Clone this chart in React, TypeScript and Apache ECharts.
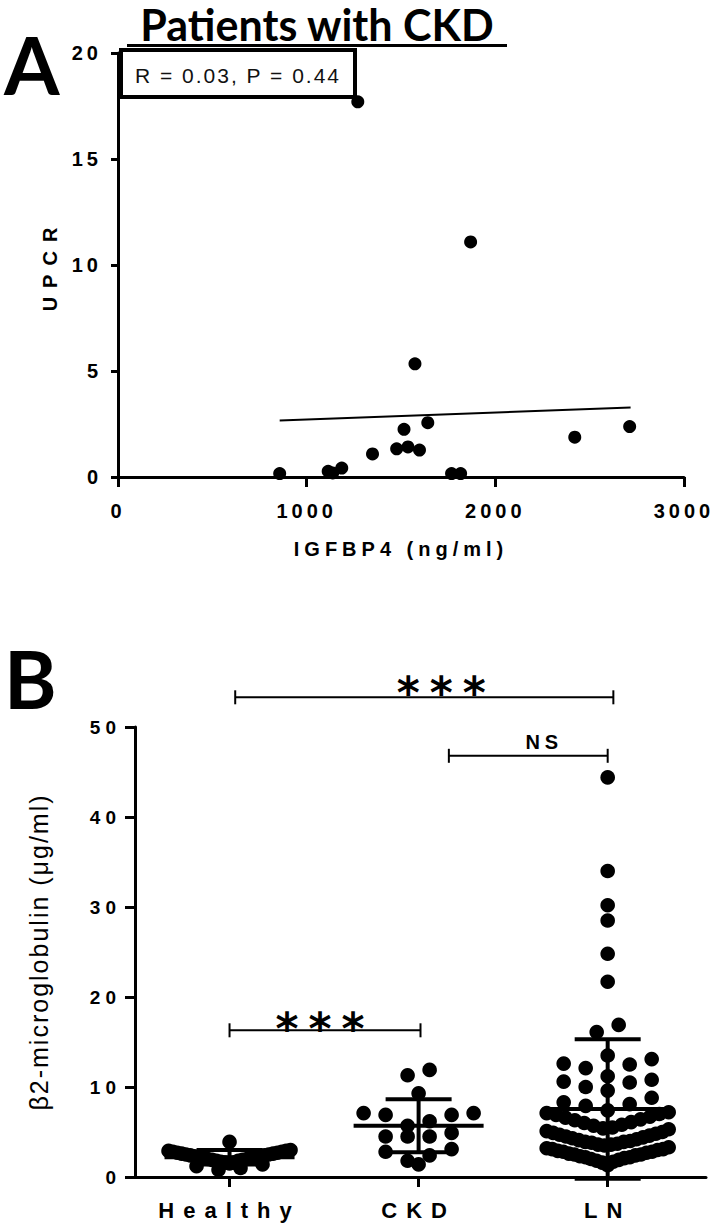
import React, { useEffect, useRef } from "react";
import * as echarts from "echarts";

// ---------- Panel A data ----------
const igfbp4 = [857, 1114, 1138, 1186, 1349, 1477, 1516, 1537, 1574, 1598, 1642, 1768, 1816, 1869, 2421, 2712, 1271];
const upcr = [0.16, 0.27, 0.19, 0.42, 1.09, 1.33, 2.25, 1.42, 5.34, 1.27, 2.56, 0.16, 0.16, 11.09, 1.88, 2.38, 17.7];
const fitX = [857, 2717];
const fitY = [2.66, 3.28];
const statText = "R = 0.03, P = 0.44";

// ---------- Panel B data ----------
const groups = ["Healthy", "CKD", "LN"];
const healthy = [
  3.9, 3.0, 2.9, 2.9, 2.8, 2.8, 2.7, 2.7, 2.6, 2.6, 2.5, 2.5, 2.4, 2.4, 2.3, 2.3, 2.2, 2.2,
  2.1, 2.1, 2.0, 2.0, 1.9, 1.9, 1.8, 1.8, 1.7, 1.6, 1.6, 1.5, 1.4, 1.2, 1.0, 0.8,
];
const ckd = [11.9, 11.3, 9.3, 7.1, 7.1, 6.9, 6.9, 6.2, 5.7, 4.9, 4.5, 4.5, 4.5, 3.1, 2.8, 2.4, 1.8, 1.4];
const ln = [
  1.3,
  1.5, 1.6, 1.7, 1.8, 1.9, 2.0, 2.1, 2.2, 2.2, 2.3, 2.4, 2.5, 2.5, 2.6, 2.7, 2.8, 2.8, 2.9, 3.0, 3.1, 3.1, 3.2, 3.3,
  3.5, 3.6, 3.6, 3.7, 3.8, 3.9, 3.9, 4.0, 4.1, 4.2, 4.3, 4.4, 4.5, 4.6, 4.7, 4.8, 4.9, 5.0, 5.1, 5.3,
  5.4, 5.5, 5.7, 5.8, 6.0, 6.1, 6.3, 6.4, 6.6, 6.7, 6.9, 7.0, 7.1, 7.2,
  7.4, 7.9, 8.1, 8.3, 8.8, 9.6, 10.0, 10.5, 10.6, 10.8, 11.2, 12.1, 12.5, 12.6, 13.1, 13.5,
  16.1, 16.9, 21.7, 24.8, 28.5, 30.2, 34.0, 44.4,
];
const groupMean = [2.2, 5.7, 7.55];
const groupSD = [0.8, 2.95, 7.75];
const bracketFrom = [1.03, 2.16, 1.0];
const bracketTo = [3.03, 3.0, 2.01];
const bracketLevel = [53.3, 46.8, 16.3];
const bracketLabel = ["***", "NS", "***"];

// ---------- styles ----------
const NARROW = "'Liberation Sans Narrow', 'Arial Narrow', 'Liberation Sans'";
const ARIAL = "'Liberation Sans', Arial";
const ff = (base: string, ls: number) => `${base}, x-ls${ls}x`;
const labelShift = [22, 16, 0];
const labelLift = [5, 14, 2];
const labelFont = [
  `bold 44px ${ff("'DejaVu Sans'", 10)}`,
  `bold 20px ${ff(ARIAL, 5)}`,
  `bold 44px ${ff("'DejaVu Sans'", 10)}`,
];

// Prism-like swarm: bin by value, spread each bin horizontally, lowest values in the centre
function swarmOffsets(values: number[]): number[] {
  const BIN = 1.95;
  const BASE = 1.45;
  const bins: Record<string, number[]> = {};
  values.forEach((v, i) => {
    const b = String(Math.floor((v - BASE) / BIN));
    (bins[b] = bins[b] || []).push(i);
  });
  const off = new Array(values.length).fill(0);
  Object.keys(bins).forEach((k) => {
    const idx = bins[k];
    idx.sort((a, b) => values[a] - values[b]);
    const n = idx.length;
    const step = n > 1 ? Math.min(22, 122 / (n - 1)) : 0;
    idx.forEach((id, j) => {
      let pos: number;
      if (n % 2 === 1) {
        pos = j === 0 ? 0 : j % 2 === 1 ? -Math.ceil(j / 2) : Math.ceil(j / 2);
      } else {
        const m = Math.floor(j / 2) + 0.5;
        pos = j % 2 === 0 ? -m : m;
      }
      off[id] = pos * step;
    });
  });
  return off;
}

const spacingCss = Array.from({ length: 14 }, (_, i) => i + 1)
  .map((n) => `text[style*="x-ls${n}x"],text[font-family*="x-ls${n}x"]{letter-spacing:${n}px;}`)
  .join("\n");

export default function App() {
  const ref = useRef<HTMLDivElement>(null);

  useEffect(() => {
    if (!ref.current) return;
    const chart = echarts.init(ref.current, null, { renderer: "svg" });

    const scatterA = igfbp4.map((x, i) => [x, upcr[i]]);
    const fitLine = fitX.map((x, i) => [x, fitY[i]]);

    const dotData: number[][] = [];
    [healthy, ckd, ln].forEach((vals, g) => {
      const off = swarmOffsets(vals);
      vals.forEach((v, i) => dotData.push([g + 1, v, off[i]]));
    });
    const barData = groupMean.map((m, i) => [i + 1, m, groupSD[i]]);
    const bracketData = bracketFrom.map((f, i) => [f, bracketTo[i], bracketLevel[i], i]);

    const axisLineStyle = { color: "#000", width: 3 };

    chart.setOption({
      animation: false,
      backgroundColor: "#fff",
      grid: [
        { left: 118, top: 53, width: 566, height: 424 },
        { left: 135, top: 727, width: 571, height: 450 },
      ],
      xAxis: [
        {
          gridIndex: 0,
          type: "value",
          min: 0,
          max: 3000,
          interval: 1000,
          splitLine: { show: false },
          axisLine: { show: true, lineStyle: axisLineStyle },
          axisTick: { show: true, length: 10, lineStyle: { color: "#000", width: 3 } },
          axisLabel: {
            margin: 24,
            color: "#000",
            fontWeight: "bold",
            fontSize: 20,
            fontFamily: ff(NARROW, 4),
            formatter: (v: number) => String(v),
          },
          name: "IGFBP4 (ng/ml)",
          nameLocation: "middle",
          nameGap: 62,
          nameTextStyle: { color: "#000", fontWeight: "bold", fontSize: 20, fontFamily: ff(NARROW, 5) },
        },
        {
          gridIndex: 1,
          type: "value",
          min: 0.5,
          max: 3.52,
          splitLine: { show: false },
          axisLine: { show: true, lineStyle: axisLineStyle },
          axisTick: { show: true, length: 10, customValues: [1, 2, 3], lineStyle: { color: "#000", width: 3 } },
          axisLabel: {
            customValues: [1, 2, 3],
            formatter: (v: number) => groups[Math.round(v) - 1] || "",
            margin: 22,
            color: "#000",
            fontWeight: "bold",
            fontSize: 22,
            fontFamily: ff(ARIAL, 9),
          },
        },
      ],
      yAxis: [
        {
          gridIndex: 0,
          type: "value",
          min: 0,
          max: 20,
          interval: 5,
          splitLine: { show: false },
          axisLine: { show: true, lineStyle: axisLineStyle },
          axisTick: { show: true, length: 7, lineStyle: { color: "#000", width: 3 } },
          axisLabel: {
            margin: 16,
            color: "#000",
            fontWeight: "bold",
            fontSize: 20,
            fontFamily: ff(NARROW, 4),
          },
          name: "UPCR",
          nameLocation: "middle",
          nameGap: 58,
          nameTextStyle: { color: "#000", fontWeight: "bold", fontSize: 20, fontFamily: ff(NARROW, 9) },
        },
        {
          gridIndex: 1,
          type: "value",
          min: 0,
          max: 50,
          interval: 10,
          splitLine: { show: false },
          axisLine: { show: true, lineStyle: axisLineStyle },
          axisTick: { show: true, length: 10, lineStyle: { color: "#000", width: 3 } },
          axisLabel: {
            margin: 14,
            color: "#000",
            fontWeight: "bold",
            fontSize: 19,
            fontFamily: ff(ARIAL, 5),
          },
          name: "\u03b22-microglobulin (\u03bcg/ml)",
          nameLocation: "middle",
          nameGap: 84,
          nameTextStyle: { color: "#000", fontWeight: "normal", fontSize: 25, fontFamily: ff(ARIAL, 2) },
        },
      ],
      graphic: [
        {
          type: "text",
          x: 4,
          y: 64,
          style: {
            text: "A",
            font: "bold 80px Lato, 'Open Sans', sans-serif",
            fill: "#000",
            textAlign: "left",
            align: "left",
            textVerticalAlign: "middle",
            verticalAlign: "middle",
          },
        },
        {
          type: "text",
          x: 4,
          y: 678,
          style: {
            text: "B",
            font: "bold 80px Lato, 'Open Sans', sans-serif",
            fill: "#000",
            textAlign: "left",
            align: "left",
            textVerticalAlign: "middle",
            verticalAlign: "middle",
          },
        },
        {
          type: "text",
          x: 317,
          y: 24,
          style: {
            text: "Patients with CKD",
            font: "bold 43px Lato, 'Open Sans', sans-serif",
            fill: "#000",
            textAlign: "center",
            align: "center",
            textVerticalAlign: "middle",
            verticalAlign: "middle",
          },
        },
        { type: "rect", shape: { x: 127, y: 44, width: 380, height: 3 }, style: { fill: "#000" } },
        {
          type: "rect",
          z: 10,
          shape: { x: 121, y: 50, width: 234, height: 47 },
          style: { fill: "none", stroke: "#000", lineWidth: 4 },
        },
        {
          type: "text",
          z: 10,
          x: 238,
          y: 75,
          style: {
            text: statText,
            font: `21px ${ff(ARIAL, 2)}`,
            fill: "#111",
            textAlign: "center",
            align: "center",
            textVerticalAlign: "middle",
            verticalAlign: "middle",
          },
        },
      ],
      series: [
        {
          type: "scatter",
          xAxisIndex: 0,
          yAxisIndex: 0,
          data: scatterA,
          symbolSize: 13,
          itemStyle: { color: "#000", opacity: 1 },
          z: 5,
        },
        {
          type: "line",
          xAxisIndex: 0,
          yAxisIndex: 0,
          data: fitLine,
          symbol: "none",
          lineStyle: { color: "#000", width: 2 },
        },
        {
          type: "custom",
          xAxisIndex: 1,
          yAxisIndex: 1,
          clip: false,
          data: dotData,
          renderItem: (_p: any, api: any) => {
            const c = api.coord([api.value(0), api.value(1)]);
            return {
              type: "circle",
              shape: { cx: c[0] + api.value(2), cy: c[1], r: 7.3 },
              style: { fill: "#000" },
            };
          },
        },
        {
          type: "custom",
          xAxisIndex: 1,
          yAxisIndex: 1,
          clip: false,
          z: 4,
          data: barData,
          renderItem: (_p: any, api: any) => {
            const x = api.value(0);
            const m = api.value(1);
            const sd = api.value(2);
            const c = api.coord([x, m]);
            const t = api.coord([x, m + sd]);
            const b = api.coord([x, m - sd]);
            const st = { stroke: "#000", lineWidth: 4 };
            return {
              type: "group",
              children: [
                { type: "line", shape: { x1: c[0], y1: t[1], x2: c[0], y2: b[1] }, style: st },
                { type: "line", shape: { x1: c[0] - 65, y1: c[1], x2: c[0] + 65, y2: c[1] }, style: st },
                { type: "line", shape: { x1: c[0] - 33, y1: t[1], x2: c[0] + 33, y2: t[1] }, style: st },
                { type: "line", shape: { x1: c[0] - 33, y1: b[1], x2: c[0] + 33, y2: b[1] }, style: st },
              ],
            };
          },
        },
        {
          type: "custom",
          xAxisIndex: 1,
          yAxisIndex: 1,
          clip: false,
          encode: { x: [0, 1], y: 2 },
          data: bracketData,
          renderItem: (_p: any, api: any) => {
            const i = api.value(3);
            const a = api.coord([api.value(0), api.value(2)]);
            const b = api.coord([api.value(1), api.value(2)]);
            const st = { stroke: "#000", lineWidth: 2 };
            return {
              type: "group",
              children: [
                { type: "line", shape: { x1: a[0], y1: a[1], x2: b[0], y2: b[1] }, style: st },
                { type: "line", shape: { x1: a[0], y1: a[1] - 7, x2: a[0], y2: a[1] + 7 }, style: st },
                { type: "line", shape: { x1: b[0], y1: b[1] - 7, x2: b[0], y2: b[1] + 7 }, style: st },
                {
                  type: "text",
                  x: (a[0] + b[0]) / 2 + labelShift[i],
                  y: a[1] - labelLift[i],
                  style: {
                    text: bracketLabel[i],
                    font: labelFont[i],
                    fill: "#000",
                    textAlign: "center",
                    align: "center",
                    textVerticalAlign: "middle",
                    verticalAlign: "middle",
                  },
                },
              ],
            };
          },
        },
      ],
    });

    return () => chart.dispose();
  }, []);

  return (
    <>
      <style>{spacingCss}</style>
      <div
        ref={ref}
        style={{ position: "fixed", left: 0, top: 0, width: 713, height: 1227, background: "#fff" }}
      />
    </>
  );
}
